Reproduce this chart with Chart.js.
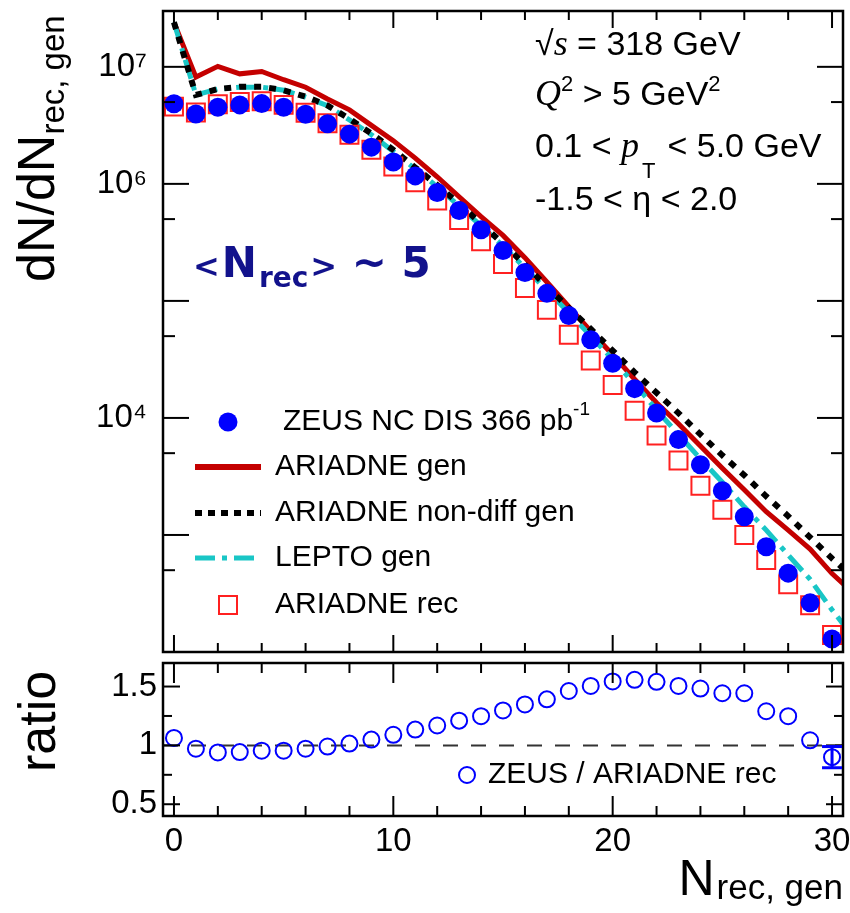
<!DOCTYPE html>
<html>
<head>
<meta charset="utf-8">
<script src="https://cdn.jsdelivr.net/npm/chart.js@4.4.1/dist/chart.umd.min.js"></script>
<style>
  html, body { margin: 0; padding: 0; background: #fff; }
  #wrap { position: relative; width: 850px; height: 913px; overflow: hidden; }
  #mainBox { position: absolute; left: 0; top: 0; }
  #ratioBox { position: absolute; left: 0; top: 660px; }
  canvas { display: block; }
</style>
</head>
<body>
<div id="wrap">
  <div id="mainBox"><canvas id="mainChart" width="850" height="660"></canvas></div>
  <div id="ratioBox"><canvas id="ratioChart" width="850" height="253"></canvas></div>
</div>
<script>
// ---- data ----
const nRec = [0,1,2,3,4,5,6,7,8,9,10,11,12,13,14,15,16,17,18,19,20,21,22,23,24,25,26,27,28,29,30];
const nGen = [0,1,2,3,4,5,6,7,8,9,10,11,12,13,14,15,16,17,18,19,20,21,22,23,24,25,26,27,28,29,30,31];

const zeusData = [4.83e6,3.96e6,4.52e6,4.73e6,4.85e6,4.52e6,3.94e6,3.26e6,2.66e6,2.06e6,1.54e6,1.17e6,8.43e5,5.92e5,4.05e5,2.69e5,1.75e5,1.16e5,7.5e4,4.65e4,2.93e4,1.78e4,1.10e4,6.53e3,3.98e3,2.39e3,1.43e3,794,472,263,129];
const ariadneRec = [4.57e6,4.07e6,4.79e6,5.01e6,5.08e6,4.73e6,4.06e6,3.29e6,2.63e6,1.96e6,1.41e6,1.03e6,7.21e5,4.90e5,3.24e5,2.07e5,1.29e5,8.38e4,5.13e4,3.09e4,1.91e4,1.15e4,7.08e3,4.32e3,2.63e3,1.64e3,1.0e3,611,380,251,140];
const ariadneGen = [2.40e7,8.17e6,1.01e7,8.71e6,9.12e6,7.76e6,6.70e6,5.32e6,4.29e6,3.16e6,2.34e6,1.66e6,1.15e6,7.76e5,5.25e5,3.63e5,2.34e5,1.45e5,8.91e4,5.50e4,3.47e4,2.14e4,1.35e4,8.91e3,5.75e3,3.72e3,2.43e3,1.58e3,1.10e3,759,468,316];
const ariadneNonDiffGen = [2.40e7,5.75e6,6.46e6,6.76e6,6.76e6,6.31e6,5.56e6,4.68e6,3.59e6,2.69e6,1.95e6,1.38e6,9.77e5,6.76e5,4.57e5,3.09e5,2.04e5,1.32e5,8.71e4,5.75e4,3.76e4,2.45e4,1.64e4,1.10e4,7.24e3,4.79e3,3.24e3,2.14e3,1.45e3,955,631,427];
const leptoGen = [2.40e7,5.75e6,6.46e6,6.70e6,6.70e6,6.31e6,5.50e6,4.65e6,3.52e6,2.63e6,1.89e6,1.34e6,9.48e5,6.46e5,4.37e5,2.95e5,1.91e5,1.23e5,7.94e4,5.01e4,3.16e4,1.95e4,1.17e4,7.24e3,4.47e3,2.82e3,1.74e3,1.10e3,676,417,229,132];

const ratioValues = [1.063,0.972,0.94,0.943,0.955,0.955,0.972,0.99,1.015,1.049,1.09,1.134,1.169,1.21,1.248,1.297,1.348,1.391,1.462,1.505,1.543,1.557,1.54,1.505,1.483,1.443,1.443,1.29,1.248,1.043,0.9];
const ratioErrors = [0,0,0,0,0,0,0,0,0,0,0,0,0,0,0,0,0,0,0,0,0,0,0,0,0,0,0,0,0,0,0.09];

const xTicks = [0,2,4,6,8,10,12,14,16,18,20,22,24,26,28,30];
const xTickLabels = {0:'0', 10:'10', 20:'20', 30:'30'};
const mainYTicks = [100,500,1e3,5e3,1e4,5e4,1e5,5e5,1e6,5e6,1e7];
const mainYLabels = {10000000:'10\u2077', 1000000:'10\u2076', 10000:'10\u2074'};
const ratioYTicks = [0.5,0.75,1,1.25,1.5];
const ratioYLabels = {0.5:'0.5', 1:'1', 1.5:'1.5'};

const SANS = '"Liberation Sans", Arial, Helvetica, sans-serif';
const SERIF = '"Liberation Serif", "Times New Roman", serif';
const RED_LINE = '#c40000';
const RED_MARK = '#ff2020';
const CYAN = '#19c6c6';
const BLUE = '#0000ff';

function pts(xs, ys) { return ys.map((v, i) => ({x: xs[i], y: v})); }

// draw a sequence of text pieces left to right
function drawRuns(ctx, x, y, runs) {
    runs.forEach(r => {
        ctx.font = r.font;
        ctx.fillText(r.t, x, y + (r.dy || 0));
        x += ctx.measureText(r.t).width + (r.dx || 0);
    });
    return x;
}

function line(ctx, x1, y1, x2, y2) {
    ctx.beginPath();
    ctx.moveTo(x1, y1);
    ctx.lineTo(x2, y2);
    ctx.stroke();
}

// no automatic label padding: the frame sits where the figure has it
function noPad(s) {
    s.paddingTop = 0; s.paddingBottom = 0; s.paddingLeft = 0; s.paddingRight = 0;
}

// frame with inward ticks on all four sides
function drawFrame(chart, cfg) {
    const {ctx, chartArea: a, scales} = chart;
    ctx.save();
    ctx.strokeStyle = '#000';
    ctx.lineWidth = 2;
    xTicks.forEach(v => {
        const px = scales.x.getPixelForValue(v);
        const len = v % 10 === 0 ? cfg.xMajor : cfg.xMinor;
        line(ctx, px, a.bottom, px, a.bottom - len);
        line(ctx, px, a.top, px, a.top + len);
    });
    cfg.yTicks.forEach(v => {
        const py = scales.y.getPixelForValue(v);
        const len = cfg.isMajorY(v) ? cfg.yMajor : cfg.yMinor;
        line(ctx, a.left, py, a.left + len, py);
        line(ctx, a.right, py, a.right - len, py);
    });
    ctx.lineWidth = 2.5;
    ctx.strokeRect(a.left, a.top, a.right - a.left, a.bottom - a.top);
    ctx.restore();
}

const mainDecor = {
    id: 'mainDecor',
    afterDraw(chart) {
        const ctx = chart.ctx;
        drawFrame(chart, {
            xMajor: 17, xMinor: 9, yMajor: 26, yMinor: 12, yTicks: mainYTicks,
            isMajorY: v => Math.abs(Math.log10(v) - Math.round(Math.log10(v))) < 1e-6
        });
        ctx.save();
        ctx.fillStyle = '#000';
        ctx.textBaseline = 'alphabetic';
        ctx.textAlign = 'left';

        // y title, rotated
        ctx.save();
        ctx.translate(54, 282);
        ctx.rotate(-Math.PI / 2);
        drawRuns(ctx, 0, 0, [
            {t: 'dN/dN', font: '52px ' + SANS},
            {t: 'rec, gen', font: '33px ' + SANS, dy: 10}
        ]);
        ctx.restore();

        // cuts, top right
        const f = '34px ' + SANS;
        const fi = 'italic 36px ' + SERIF;
        const fs = '22px ' + SANS;
        drawRuns(ctx, 535, 55, [{t: '\u221A', font: f}, {t: 's', font: fi}, {t: ' = 318 GeV', font: f}]);
        drawRuns(ctx, 535, 105, [{t: 'Q', font: fi}, {t: '2', font: fs, dy: -14}, {t: ' > 5 GeV', font: f}, {t: '2', font: fs, dy: -14}]);
        drawRuns(ctx, 535, 157, [{t: '0.1 < ', font: f}, {t: 'p', font: fi, dx: 3}, {t: 'T', font: fs, dy: 21, dx: 12}, {t: '< 5.0 GeV', font: f}]);
        drawRuns(ctx, 535, 210, [{t: '-1.5 < \u03B7 < 2.0', font: f}]);

        // <N_rec> ~ 5
        ctx.fillStyle = '#12128c';
        drawRuns(ctx, 193, 277, [
            {t: '<', font: 'bold 32px "DejaVu Sans", sans-serif', dx: 2},
            {t: 'N', font: 'bold 42px "DejaVu Sans", sans-serif', dx: 2},
            {t: 'rec', font: 'bold 28px "DejaVu Sans", sans-serif', dy: 10, dx: 2},
            {t: '>', font: 'bold 32px "DejaVu Sans", sans-serif'},
            {t: ' ~ 5', font: 'bold 42px "DejaVu Sans", sans-serif'}
        ]);

        // legend
        ctx.fillStyle = '#000';
        ctx.textBaseline = 'middle';
        const lf = '30px ' + SANS;
        ctx.font = lf;
        const rows = [422, 467, 513, 558, 605];
        // ZEUS
        ctx.fillStyle = BLUE;
        ctx.beginPath();
        ctx.arc(228, rows[0], 9.5, 0, Math.PI * 2);
        ctx.fill();
        ctx.fillStyle = '#000';
        drawRuns(ctx, 283, rows[0], [{t: 'ZEUS NC DIS 366 pb', font: lf}, {t: '-1', font: '19px ' + SANS, dy: -12}]);
        // lines
        const samples = [
            {y: rows[1], color: RED_LINE, w: 6, dash: [], text: 'ARIADNE gen'},
            {y: rows[2], color: '#000', w: 6, dash: [7, 6], text: 'ARIADNE non-diff gen'},
            {y: rows[3], color: CYAN, w: 5, dash: [20, 7, 5, 7], text: 'LEPTO gen'}
        ];
        samples.forEach(s => {
            ctx.save();
            ctx.strokeStyle = s.color;
            ctx.lineWidth = s.w;
            ctx.setLineDash(s.dash);
            line(ctx, 195, s.y, 261, s.y);
            ctx.restore();
            ctx.font = lf;
            ctx.fillText(s.text, 275, s.y);
        });
        // ARIADNE rec
        ctx.strokeStyle = RED_MARK;
        ctx.lineWidth = 2;
        ctx.strokeRect(219, rows[4] - 9, 18, 18);
        ctx.font = lf;
        ctx.fillText('ARIADNE rec', 275, rows[4]);
        ctx.restore();
    }
};

const ratioDecor = {
    id: 'ratioDecor',
    afterDraw(chart) {
        const {ctx, scales} = chart;
        drawFrame(chart, {
            xMajor: 20, xMinor: 10, yMajor: 17, yMinor: 9, yTicks: ratioYTicks,
            isMajorY: v => Math.abs(v * 2 - Math.round(v * 2)) < 1e-6
        });
        ctx.save();
        // error bars
        ctx.strokeStyle = BLUE;
        ctx.lineWidth = 3;
        ratioErrors.forEach((e, i) => {
            if (!e) return;
            const px = scales.x.getPixelForValue(nRec[i]);
            const y1 = scales.y.getPixelForValue(ratioValues[i] + e);
            const y2 = scales.y.getPixelForValue(ratioValues[i] - e);
            line(ctx, px, y1, px, y2);
            line(ctx, px - 10, y1, px + 10, y1);
            line(ctx, px - 10, y2, px + 10, y2);
        });
        // legend
        ctx.lineWidth = 2;
        ctx.beginPath();
        ctx.arc(467, 115, 8, 0, Math.PI * 2);
        ctx.stroke();
        ctx.fillStyle = '#000';
        ctx.textBaseline = 'middle';
        ctx.textAlign = 'left';
        ctx.font = '30px ' + SANS;
        ctx.fillText('ZEUS / ARIADNE rec', 488, 115);

        // ratio title
        ctx.textBaseline = 'alphabetic';
        ctx.save();
        ctx.translate(55, 112);
        ctx.rotate(-Math.PI / 2);
        ctx.font = '52px ' + SANS;
        ctx.fillText('ratio', 0, 0);
        ctx.restore();

        // x title
        ctx.font = '50px ' + SANS;
        const wN = ctx.measureText('N').width;
        ctx.font = '35px ' + SANS;
        const wSub = ctx.measureText('rec, gen').width;
        const x0 = 843 - wSub - wN - 2;
        drawRuns(ctx, x0, 235, [{t: 'N', font: '50px ' + SANS, dx: 2}, {t: 'rec, gen', font: '35px ' + SANS, dy: 4}]);
        ctx.restore();
    }
};

const commonX = {type: 'linear', min: -0.5, max: 30.5};

new Chart(document.getElementById('mainChart'), {
    type: 'line',
    data: {
        datasets: [
            {label: 'ZEUS NC DIS 366 pb-1', data: pts(nRec, zeusData), showLine: false,
             pointStyle: 'circle', pointRadius: 9.5, pointBorderWidth: 0,
             pointBackgroundColor: BLUE, pointBorderColor: BLUE, order: 0},
            {label: 'ARIADNE rec', data: pts(nRec, ariadneRec), showLine: false,
             pointStyle: 'rect', pointRadius: 12.7, pointBorderWidth: 2,
             pointBackgroundColor: 'rgba(0,0,0,0)', pointBorderColor: RED_MARK, order: 1},
            {label: 'ARIADNE non-diff gen', data: pts(nGen, ariadneNonDiffGen), borderColor: '#000',
             borderWidth: 6, borderDash: [7, 8], pointRadius: 0, tension: 0, clip: 0, order: 2},
            {label: 'LEPTO gen', data: pts(nGen, leptoGen), borderColor: CYAN,
             borderWidth: 5, borderDash: [20, 7, 5, 7], pointRadius: 0, tension: 0, clip: 0, order: 3},
            {label: 'ARIADNE gen', data: pts(nGen, ariadneGen), borderColor: RED_LINE,
             borderWidth: 5, pointRadius: 0, tension: 0, clip: 0, order: 4}
        ]
    },
    options: {
        responsive: false,
        animation: false,
        devicePixelRatio: 1,
        layout: {autoPadding: false, padding: {left: 0, right: 7, top: 11, bottom: 8}},
        plugins: {legend: {display: false}, tooltip: {enabled: false}},
        scales: {
            x: Object.assign({display: false, afterFit: noPad}, commonX),
            y: {
                type: 'logarithmic', min: 100, max: 3e7,
                afterBuildTicks: s => { s.ticks = mainYTicks.map(v => ({value: v})); },
                afterFit: s => { s.width = 163; noPad(s); },
                grid: {display: false, drawTicks: false},
                border: {display: false},
                ticks: {
                    autoSkip: false, padding: 16, color: '#000',
                    font: {family: SANS, size: 33},
                    callback: v => mainYLabels[v] || null
                }
            }
        }
    },
    plugins: [mainDecor]
});

new Chart(document.getElementById('ratioChart'), {
    type: 'line',
    data: {
        datasets: [
            {label: 'ZEUS / ARIADNE rec', data: pts(nRec, ratioValues), showLine: false,
             pointStyle: 'circle', pointRadius: 8, pointBorderWidth: 2,
             pointBackgroundColor: 'rgba(0,0,0,0)', pointBorderColor: BLUE, order: 0},
            {label: 'unity', data: [{x: -0.5, y: 1}, {x: 30.5, y: 1}], borderColor: '#333',
             borderWidth: 2, borderDash: [15, 13], pointRadius: 0, clip: 0, order: 1}
        ]
    },
    options: {
        responsive: false,
        animation: false,
        devicePixelRatio: 1,
        layout: {autoPadding: false, padding: {left: 0, right: 7, top: 3, bottom: 0}},
        plugins: {legend: {display: false}, tooltip: {enabled: false}},
        scales: {
            x: Object.assign({
                afterBuildTicks: s => { s.ticks = xTicks.map(v => ({value: v})); },
                afterFit: s => { s.height = 97; noPad(s); },
                grid: {display: false, drawTicks: false},
                border: {display: false},
                ticks: {
                    autoSkip: false, maxRotation: 0, padding: 6, color: '#000',
                    font: {family: SANS, size: 33},
                    callback: v => xTickLabels[v] || null
                }
            }, commonX),
            y: {
                type: 'linear', min: 0.4, max: 1.7,
                afterBuildTicks: s => { s.ticks = ratioYTicks.map(v => ({value: v})); },
                afterFit: s => { s.width = 163; noPad(s); },
                grid: {display: false, drawTicks: false},
                border: {display: false},
                ticks: {
                    autoSkip: false, padding: 6, color: '#000',
                    font: {family: SANS, size: 33},
                    callback: v => ratioYLabels[v] || null
                }
            }
        }
    },
    plugins: [ratioDecor]
});
</script>
</body>
</html>
